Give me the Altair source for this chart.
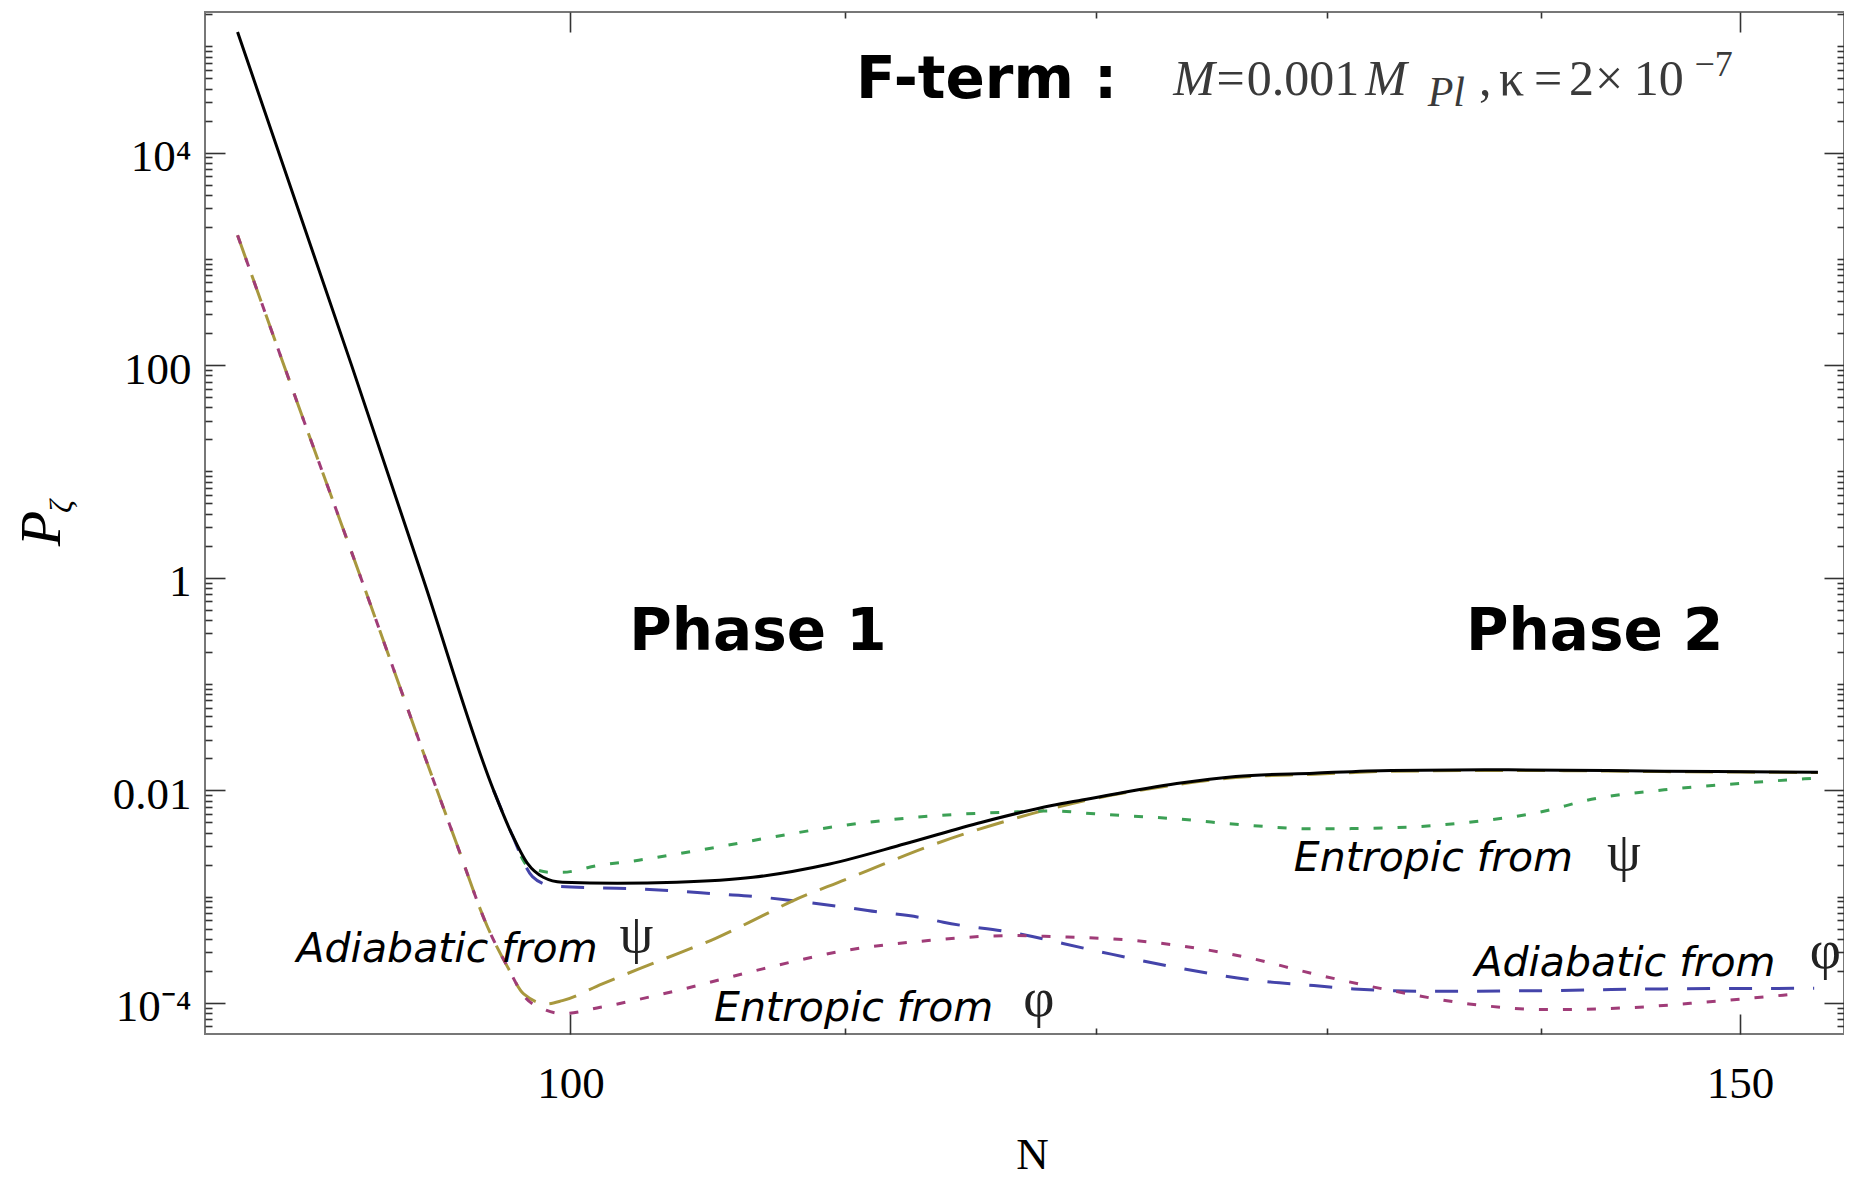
import altair as alt
import pandas as pd

# ---------------- data ----------------
total_N = [89.1, 92.69, 95.01, 97.37, 97.98, 98.52, 99.06, 99.72, 101.64, 103.75, 106.53,
           109.4, 112.3, 115.33, 118.16, 119.4, 123.39, 125.94, 129.4, 132.92, 138.4, 146.1, 154.1]
total_P = [1.36e5, 100, 1.0, 0.01, 3.92e-3, 2.05e-3, 1.52e-3, 1.365e-3, 1.336e-3, 1.365e-3, 1.52e-3,
           2.03e-3, 3.14e-3, 5.01e-3, 7.19e-3, 8.1e-3, 0.01159, 0.01349, 0.0145, 0.01536, 0.0156, 0.01514, 0.0148]

adi_psi_N = [89.1, 90.94, 92.99, 95.48, 96.13, 97.17, 97.85, 98.39, 99.19, 99.72, 101.11, 102.38, 103.88,
             105.14, 106.89, 107.95, 110.0, 110.85, 113.2, 116.5, 119.4, 123.39, 125.94, 129.4,
             132.92, 138.4, 146.1, 154.1]
adi_psi_P = [1666, 46.6, 1.0, 0.01, 3.14e-3, 5.15e-4, 2.16e-4, 1.216e-4, 9.79e-5, 1.05e-4, 1.51e-4, 2.08e-4,
             2.975e-4, 4.03e-4, 6.63e-4, 8.98e-4, 1.447e-3, 1.759e-3, 2.96e-3, 5.31e-3, 7.9e-3, 0.0113,
             0.0132, 0.0142, 0.0151, 0.0154, 0.0150, 0.0147]

ent_phi_N = [89.1, 90.94, 92.99, 95.48, 96.13, 97.17, 97.85, 98.39, 99.06, 99.72, 101.04, 103.75, 106.89,
             110.0, 113.2, 116.5, 118.16, 121.6, 126.4, 129.39, 132.92, 136.55, 140.3, 144.1, 148.1, 152.96]
ent_phi_P = [1666, 46.6, 1.0, 0.01, 3.14e-3, 5.15e-4, 2.16e-4, 1.171e-4, 8.78e-5, 7.93e-5, 9.09e-5, 1.305e-4,
             2.09e-4, 3.11e-4, 3.86e-4, 4.30e-4, 4.21e-4, 3.86e-4, 2.69e-4, 1.875e-4, 1.306e-4, 9.79e-5,
             8.65e-5, 8.97e-5, 1.013e-4, 1.216e-4]

adi_phi_N = [97.37, 97.98, 98.69, 99.33, 100.94, 102.39, 103.88, 105.14, 106.89, 107.95, 110.0,
             110.85, 113.2, 113.8, 116.5, 119.92, 123.35, 126.63, 129.39, 131.2, 134.8, 140.3, 146.1, 153.9]
adi_phi_P = [0.01, 3.92e-3, 1.544e-3, 1.27e-3, 1.209e-3, 1.183e-3, 1.123e-3, 1.06e-3, 9.86e-4,
             9.18e-4, 7.94e-4, 7.39e-4, 6.17e-4, 5.74e-4, 4.62e-4, 3.11e-4, 2.16e-4, 1.646e-4, 1.456e-4,
             1.355e-4, 1.285e-4, 1.306e-4, 1.355e-4, 1.372e-4]

ent_psi_N = [98.3, 98.52, 99.33, 99.72, 100.94, 102.39, 103.88, 105.14, 106.89, 110.0, 113.2, 116.5,
             118.16, 119.92, 123.35, 126.63, 129.39, 132.92, 136.55, 140.3, 142.2, 146.1, 150.1, 153.9]
ent_psi_P = [2.4e-3, 1.96e-3, 1.695e-3, 1.695e-3, 1.96e-3, 2.2e-3, 2.55e-3, 2.9e-3, 3.5e-3, 4.7e-3,
             5.7e-3, 6.25e-3, 6.4e-3, 6.01e-3, 5.39e-3, 4.66e-3, 4.34e-3, 4.44e-3, 5.01e-3, 6.46e-3,
             8.02e-3, 0.0101, 0.01166, 0.0130]

phase_labels = ["Phase 1", "Phase 2"]
phase_N = [102.06, 136.4]
phase_P = [0.207, 0.207]

note_labels = ["Adiabatic from", "Entropic from", "Entropic from", "Adiabatic from"]
note_N = [90.94, 105.1, 128.5, 136.8]
note_P = [2.41e-4, 6.71e-5, 1.759e-3, 1.780e-4]

greek_labels = ["ψ", "φ", "ψ", "φ"]
greek_N = [101.71, 116.99, 143.24, 153.66]
greek_P = [3.04e-4, 7.51e-5, 1.778e-3, 2.126e-4]

head_labels = ["F-term :"]
head_N = [110.4]
head_P = [32440]

math_it_labels = ["M", "M"]
math_it_N = [123.24, 131.72]
math_it_P = [34620, 34620]
math_rm_labels = ["=", "0.001", ",", "κ", "=", "2", "×", "10"]
math_rm_N = [125.1, 126.42, 137.02, 137.97, 139.65, 141.36, 142.64, 144.57]
math_rm_P = [34620, 34620, 34620, 34620, 34620, 34620, 34620, 34620]
math_sub_labels = ["Pl"]
math_sub_N = [134.6]
math_sub_P = [27280]
math_sup_labels = ["−7"]
math_sup_N = [147.65]
math_sup_P = [52250]

x_domain = [88.1, 155.5]
y_domain = [5.1e-5, 2.1e5]
x_tick_values = [100, 110, 120, 130, 140, 150]
x_label_values = [100, 150]
y_label_values = [0.0001, 0.01, 1, 100, 10000]
y_label_texts = ["10⁻⁴", "0.01", "1", "100", "10⁴"]
y_mantissas = [1, 2, 3, 4, 5, 6, 7, 8, 9]
y_decades = [-5, -4, -3, -2, -1, 0, 1, 2, 3, 4, 5]

# ---------------- layout ----------------
W, H = 1639, 1022
SERIF = "Liberation Serif"
SANS = "DejaVu Sans"
TICK_COLOR = "#333333"

y_tick_values = sorted({float(f"{k}e{d}") for d in y_decades for k in y_mantissas
                        if y_domain[0] <= float(f"{k}e{d}") <= y_domain[1]})

xs = alt.Scale(type="log", domain=x_domain, nice=False)
ys = alt.Scale(type="log", domain=y_domain, nice=False)

x_major_test = " || ".join(f"datum.value == {v}" for v in x_label_values)
y_major_test = "indexof([" + ",".join(repr(float(v)) for v in y_label_values) + "], datum.value) >= 0"
y_label_expr = " : ".join(f"datum.value == {repr(float(v))} ? '{t}'"
                          for v, t in zip(y_label_values, y_label_texts)) + " : ''"

x_tick_size = {"condition": {"test": x_major_test, "value": 20}, "value": 6}
y_tick_size = {"condition": {"test": y_major_test, "value": 20}, "value": 7}

x_label_axis = alt.Axis(orient="bottom", values=x_label_values, format="d", ticks=False, tickSize=0,
                        domain=False, grid=False, labelFont=SERIF, labelFontSize=45, labelColor="black",
                        labelBaseline="alphabetic", labelPadding=63, labelFlush=False, labelOverlap=False,
                        title="N", titleFont=SERIF, titleFontSize=45, titleFontWeight="normal",
                        titleColor="black", titleBaseline="alphabetic", titleAlign="center",
                        titleX=827, titleY=134)
y_label_axis = alt.Axis(orient="left", values=y_label_values, labelExpr=y_label_expr, ticks=False,
                        tickSize=0, domain=False, grid=False, labelFont=SERIF, labelFontSize=45,
                        labelColor="black", labelPadding=14, labelBaseline="middle", labelOffset=4,
                        labelFlush=False, labelOverlap=False,
                        title="P", titleFont=SERIF, titleFontStyle="italic", titleFontSize=58,
                        titleFontWeight="normal", titleColor="black", titleAngle=270,
                        titleBaseline="alphabetic", titleAlign="center", titleX=-146, titleY=516)

def tick_axis(orient, values, size, **kw):
    return alt.Axis(orient=orient, offset=-(H if orient in ("top", "bottom") else W), values=values,
                    labels=False, domain=False, grid=False, ticks=True, tickSize=size,
                    tickColor=TICK_COLOR, tickWidth=1.6, **kw)

x_ticks_bottom = tick_axis("top", x_tick_values, x_tick_size, title=None)
x_ticks_top = tick_axis("bottom", x_tick_values, x_tick_size, title=None)
y_ticks_left = tick_axis("right", y_tick_values, y_tick_size, title="ζ", titleFont=SERIF,
                         titleFontStyle="italic", titleFontSize=32, titleFontWeight="normal",
                         titleColor="black", titleAngle=270, titleBaseline="alphabetic",
                         titleAlign="center", titleX=-134, titleY=494)
y_ticks_right = tick_axis("left", y_tick_values, y_tick_size, title=None)


def line_layer(N, P, color, width, ax_x=None, ax_y=None, dash=None):
    d = pd.DataFrame({"N": N, "P": P})
    kw = dict(color=color, strokeWidth=width, strokeCap="butt", interpolate="monotone")
    if dash is not None:
        kw["strokeDash"] = dash
    return alt.Chart(d).mark_line(**kw).encode(
        x=alt.X("N:Q", scale=xs, axis=ax_x),
        y=alt.Y("P:Q", scale=ys, axis=ax_y),
    )


def text_layer(N, P, labels, font, size, style="normal", weight="normal", color="black"):
    d = pd.DataFrame({"N": N, "P": P, "label": labels})
    return alt.Chart(d).mark_text(align="left", baseline="alphabetic", font=font, fontSize=size,
                                  fontStyle=style, fontWeight=weight, color=color).encode(
        x=alt.X("N:Q", scale=xs, axis=None),
        y=alt.Y("P:Q", scale=ys, axis=None),
        text="label:N",
    )


blue = line_layer(adi_phi_N, adi_phi_P, "#4444aa", 3, x_label_axis, y_label_axis, dash=[23, 19])
olive = line_layer(adi_psi_N, adi_psi_P, "#a8983e", 3, x_ticks_bottom, y_ticks_left, dash=[28, 14])
magenta = line_layer(ent_phi_N, ent_phi_P, "#a03c78", 3, x_ticks_top, y_ticks_right, dash=[9, 15])
green = line_layer(ent_psi_N, ent_psi_P, "#3ca055", 3, None, None, dash=[9, 15])
black = line_layer(total_N, total_P, "#000000", 3)

MATH = "#3a3a3a"
texts = [
    text_layer(head_N, head_P, head_labels, SANS, 58, weight="bold"),
    text_layer(math_it_N, math_it_P, math_it_labels, SERIF, 50, style="italic", color=MATH),
    text_layer(math_rm_N, math_rm_P, math_rm_labels, SERIF, 50, color=MATH),
    text_layer(math_sub_N, math_sub_P, math_sub_labels, SERIF, 42, style="italic", color=MATH),
    text_layer(math_sup_N, math_sup_P, math_sup_labels, SERIF, 36, color=MATH),
    text_layer(phase_N, phase_P, phase_labels, SANS, 58, weight="bold"),
    text_layer(note_N, note_P, note_labels, SANS, 41, style="italic"),
    text_layer(greek_N, greek_P, greek_labels, SERIF, 54, color="#222222"),
]

chart = alt.layer(blue, olive, magenta, green, black, *texts).resolve_axis(
    x="independent", y="independent"
).properties(
    width=W, height=H,
    autosize=alt.AutoSizeParams(type="none"),
    padding={"left": 197, "top": 4, "right": 0, "bottom": 146},
    background="white",
).configure_view(stroke="#777777", strokeWidth=2)

chart.save("out.html", embed_options={"renderer": "svg", "actions": False})
